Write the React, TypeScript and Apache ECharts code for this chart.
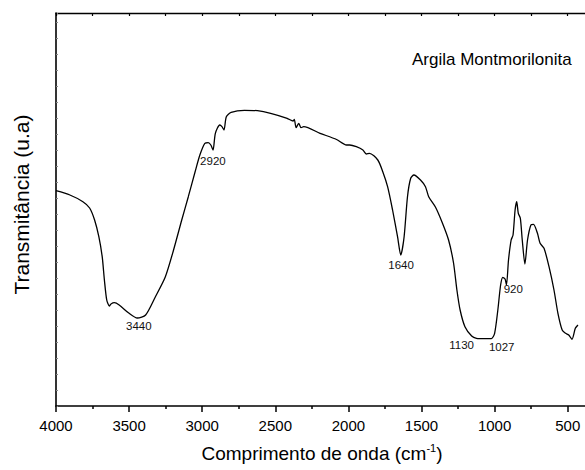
import React, { useEffect, useRef } from "react";
import * as echarts from "echarts";

// Spectrum (wavenumber in cm^-1, transmittance in arbitrary units)
const wavenumbers = [
  4000, 3905, 3816, 3770, 3736, 3707, 3684, 3669, 3653, 3635, 3624, 3601, 3568, 3500, 3444, 3387,
  3320, 3252, 3196, 3140, 3095, 3049, 3016, 2982, 2959, 2941, 2926, 2910, 2880, 2865, 2851, 2835,
  2802, 2711, 2622, 2532, 2419, 2378, 2370, 2358, 2340, 2324, 2306, 2194, 2081, 2013, 1991, 1946,
  1901, 1878, 1856, 1799, 1765, 1732, 1698, 1664, 1642, 1619, 1596, 1574, 1552, 1507, 1473, 1451,
  1405, 1360, 1315, 1281, 1258, 1236, 1203, 1157, 1124, 1067, 1022, 1000, 978, 959, 944, 928,
  919, 905, 887, 874, 860, 849, 838, 824, 811, 793, 775, 752, 734, 707, 689, 662,
  628, 594, 567, 538, 515, 493, 471, 448, 430,
];
const transmittance = [
  215.3, 211, 204.3, 198, 186, 169.3, 149.3, 126, 106, 100, 102, 103.3, 101, 92.7, 88, 91,
  109.3, 129.3, 156, 186, 209.3, 234, 251, 262.7, 263.3, 261, 256, 272.7, 281, 279.3, 276, 289.3,
  293.7, 295.7, 295.3, 292.7, 287.7, 285, 286.7, 278.3, 282.7, 278.3, 279.3, 272.7, 266.5, 261, 261, 259.3,
  256, 252, 252.7, 246, 234.3, 219.3, 196, 169.3, 151, 169.3, 209.3, 227.7, 231, 226, 219.3, 209.3,
  199, 184, 166, 143, 116, 96, 79.3, 70, 67.7, 67.3, 67.3, 72.7, 96, 121, 128.7, 126.7,
  121, 146, 166, 171, 196, 204.3, 192.7, 187.7, 166, 142, 166, 181, 181.7, 172.7, 162.7, 157.7,
  139.3, 116, 92.7, 76, 72.7, 71, 66.7, 77.7, 81,
];

// Annotated bands
const peakPositions = [3440, 2920, 1640, 1130, 1027, 920];
const peakLabels = ["3440", "2920", "1640", "1130", "1027", "920"];

const chartTitle = "Argila Montmorilonita";
const xAxisTitle = "Comprimento de onda (cm";
const xAxisTitleSup = "-1";
const yAxisTitle = "Transmitância (u.a)";

function interp(w: number): number {
  for (let i = 0; i < wavenumbers.length - 1; i++) {
    const a = wavenumbers[i];
    const b = wavenumbers[i + 1];
    if (w <= a && w >= b) {
      const t = (a - w) / (a - b);
      return transmittance[i] + t * (transmittance[i + 1] - transmittance[i]);
    }
  }
  return transmittance[transmittance.length - 1];
}

const FONT = "'Liberation Sans', Arial, sans-serif";
const labelOffsets: [number, number][] = [
  [1, 8],
  [-1, 17],
  [0, 12],
  [-14, 7],
  [11, 8],
  [7, 5],
];

export default function App() {
  const ref = useRef<HTMLDivElement>(null);

  useEffect(() => {
    if (!ref.current) return;
    const chart = echarts.init(ref.current, undefined, { renderer: "svg" });
    const seriesData = wavenumbers.map((w, i) => [w, transmittance[i]]);

    chart.setOption({
      animation: false,
      backgroundColor: "#ffffff",
      title: {
        text: chartTitle,
        left: 412,
        top: 51,
        padding: 0,
        textStyle: { fontFamily: FONT, fontSize: 17, fontWeight: "normal", color: "#000" },
      },
      graphic: [
        {
          type: "text",
          x: 322,
          y: 453,
          silent: true,
          style: {
            text: `{m|${xAxisTitle}}{s|${xAxisTitleSup}}{m|)}`,
            align: "center",
            verticalAlign: "middle",
            rich: {
              m: { fontFamily: FONT, fontSize: 19, fill: "#000", lineHeight: 22 },
              s: { fontFamily: FONT, fontSize: 11, fill: "#000", verticalAlign: "top", lineHeight: 22 },
            },
          },
        },
      ],
      grid: { left: 56, right: 0, top: 13, bottom: 64 },
      xAxis: [
        {
          type: "value",
          position: "bottom",
          inverse: true,
          min: 0,
          max: 4000,
          interval: 500,
          axisLine: { show: true, onZero: false, lineStyle: { color: "#000", width: 1.6 } },
          axisTick: { show: true, length: 6, lineStyle: { color: "#000", width: 1.5 } },
          minorTick: { show: true, splitNumber: 2, length: 3, lineStyle: { color: "#000", width: 1.5 } },
          axisLabel: {
            fontFamily: FONT,
            fontSize: 15,
            color: "#000",
            margin: 12,
            formatter: (v: number) => String(v),
          },
          splitLine: { show: false },
        },
        {
          type: "value",
          position: "top",
          inverse: true,
          min: 0,
          max: 4000,
          interval: 500,
          axisLine: { show: true, onZero: false, lineStyle: { color: "#000", width: 1.4 } },
          axisTick: { show: true, inside: true, length: 3, lineStyle: { color: "#000", width: 1.2 } },
          minorTick: { show: true, splitNumber: 2, length: 3, lineStyle: { color: "#000", width: 1.2 } },
          axisLabel: { show: false },
          splitLine: { show: false },
        },
      ],
      yAxis: {
        type: "value",
        min: 0,
        max: 393,
        interval: 16,
        axisLine: { show: true, onZero: false, lineStyle: { color: "#000", width: 1.6 } },
        axisTick: { show: true, inside: true, length: 2, lineStyle: { color: "#888", width: 1 } },
        axisLabel: { show: false },
        splitLine: { show: false },
        name: yAxisTitle,
        nameLocation: "middle",
        nameGap: 24,
        nameRotate: 90,
        nameTextStyle: { fontFamily: FONT, fontSize: 21, color: "#000", padding: [0, 0, 0, 10] },
      },
      series: [
        {
          type: "line",
          xAxisIndex: 0,
          yAxisIndex: 0,
          data: seriesData,
          showSymbol: false,
          smooth: 0.25,
          lineStyle: { color: "#000", width: 1.3 },
          itemStyle: { color: "#000" },
          markPoint: {
            symbol: "circle",
            symbolSize: 0,
            silent: true,
            label: {
              show: true,
              formatter: "{b}",
              fontFamily: FONT,
              fontSize: 11.5,
              color: "#111",
            },
            data: peakPositions.map((p, i) => ({
              name: peakLabels[i],
              coord: [p, interp(p)],
              label: { offset: labelOffsets[i] },
            })),
          },
        },
      ],
    });

    return () => {
      chart.dispose();
    };
  }, []);

  return (
    <div
      style={{
        position: "absolute",
        left: 0,
        top: 0,
        width: 585,
        height: 470,
        overflow: "hidden",
        background: "#fff",
      }}
    >
      <div ref={ref} style={{ width: 648, height: 470 }} />
    </div>
  );
}
